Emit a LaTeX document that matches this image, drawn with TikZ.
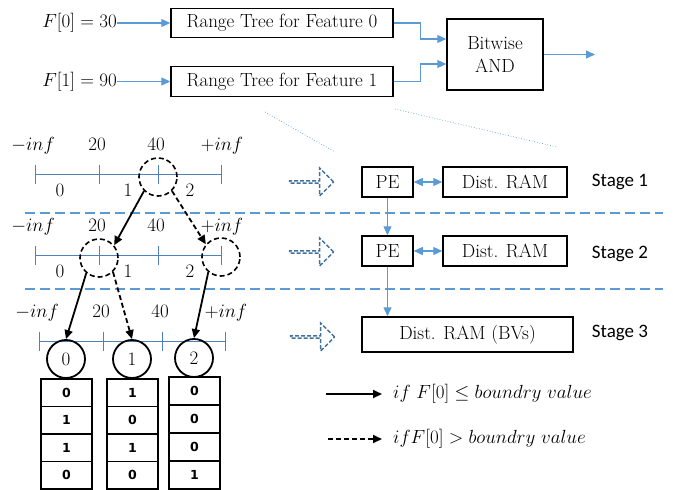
\documentclass[tikz,border=0pt]{standalone}
\usepackage{fix-cm}
\usepackage{fontspec}
\newfontfamily\stagefont{Carlito}
\newfontfamily\bvfont{DejaVu Sans}
\usetikzlibrary{arrows.meta,shapes.arrows}
\definecolor{linkblue}{HTML}{5B9BD5}
\definecolor{lineblue}{HTML}{4F81BD}
\definecolor{darkblue}{HTML}{41719C}
\newcommand\lblsize{\fontsize{19}{23}\selectfont}

\begin{document}
\begin{tikzpicture}[x=1pt,y=-1pt,
      box/.style={draw,line width=1.5pt,inner sep=0pt,font=\lblsize},
      txt/.style={inner sep=0pt,font=\lblsize},
      conn/.style={draw=linkblue,line width=1.3pt,>={Triangle[length=9pt,width=8pt]}},
      tarrow/.style={draw,line width=1.8pt,->,>={Triangle[length=9pt,width=8pt]},dash pattern=on 5pt off 3pt},
      solidarrow/.style={tarrow,solid},
      nline/.style={draw=lineblue,line width=1pt},
      sep/.style={draw=linkblue,line width=1.5pt,dash pattern=on 10pt off 5pt},
      zoomline/.style={draw=linkblue,line width=0.7pt,dotted},
      dcirc/.style={circle,draw,line width=1.6pt,dash pattern=on 5pt off 3pt,minimum size=38pt,inner sep=0pt},
      scirc/.style={circle,draw,line width=1.8pt,minimum size=38pt,inner sep=0pt,font=\lblsize},
      harrow/.style={single arrow,draw=darkblue,line width=1.5pt,dash pattern=on 4pt off 2pt,
        minimum width=28pt,single arrow head extend=8.5pt,minimum height=44pt,inner sep=0pt},
      bvcell/.style={draw,line width=1.1pt,minimum width=51pt,inner sep=0pt,font=\bvfont\bfseries\fontsize{12.5}{15}\selectfont},
      stage/.style={inner sep=0pt,font=\stagefont\fontsize{19}{22}\selectfont},
      ]
  \useasboundingbox (0,0) rectangle (673,490);

  \node [box,minimum width=222pt,minimum height=29pt] (rt0) at (282,23) {Range Tree for Feature 0};
  \node [box,minimum width=222pt,minimum height=30pt] (rt1) at (282,81.5) {Range Tree for Feature 1};
  \node [box,minimum width=96pt,minimum height=71pt,align=center] (and) at (495,54.5) {Bitwise\\AND};
  \node [txt,anchor=east] (f0) at (117,23) {$F[0]=30$};
  \node [txt,anchor=east] (f1) at (117,81.5) {$F[1]=90$};
  \coordinate (out) at (595,54.5);
  \draw [conn,->] (f0.east) -- (rt0.west);
  \draw [conn,->] (f1.east) -- (rt1.west);
  \draw [conn,->] (rt0.east) -- ++(27,0) |- ([yshift=15.5pt]and.west);
  \draw [conn,->] (rt1.east) -- ++(27,0) |- ([yshift=-9.5pt]and.west);
  \draw [conn,->] (and.east) -- (out);

  \coordinate (za) at (265,112);
  \coordinate (zb) at (335,152);
  \coordinate (zc) at (395,109);
  \coordinate (zd) at (557,147);
  \draw [zoomline] (za) -- (zb);
  \draw [zoomline] (zc) -- (zd);

  \foreach \r/\y/\dx in {1/174/0,2/255/0,3/341/4} {
    \draw [nline] (35+\dx,\y) -- (221+\dx,\y);
    \foreach \x in {35,99,158,221}
      \draw [nline] (\x+\dx,\y-9.5) -- (\x+\dx,\y+9.5);
    \foreach \t/\x [count=\i] in {$-inf$/33,20/97,40/156,$+inf$/222}
      \node [txt,anchor=base] (top\r\i) at (\x+\dx,\y-24) {\t};
  }
  \foreach \r/\y in {1/196,2/277}
    \foreach \t/\x in {0/60,1/128,2/190}
      \node [txt,anchor=base] (reg\r\t) at (\x,\y) {\t};

  \draw [sep] (25,213) -- (663,213);
  \draw [sep] (25,289) -- (663,289);

  \node [dcirc] (c1) at (158,177) {};
  \node [dcirc] (c2) at (99,258) {};
  \node [dcirc] (c3) at (221,257) {};
  \node [scirc] (n0) at (66,359) {0};
  \node [scirc] (n1) at (132,359) {1};
  \node [scirc] (n2) at (194,358) {2};
  \draw [solidarrow] (c1.225) -- (c2.40);
  \draw [tarrow] (c1.-45) -- (c3.140);
  \draw [solidarrow] (c2.230) -- (n0.north);
  \draw [tarrow] (c2.-45) -- (n1.north);
  \draw [solidarrow] (c3.230) -- (n2.north);

  \foreach \c/\x/\t/\h/\vals in {0/66.5/379/27.5/{0,1,1,0},1/132.5/379/27.5/{1,0,1,0},2/194.5/377/28/{0,0,0,1}}
    \foreach \v [count=\r] in \vals
      \node [bvcell,minimum height=\h] (bv\c\r) at (\x,{\t+\h*(\r-0.5)}) {\v};

  \node [harrow] (h1) at (311,182) {};
  \node [harrow] (h2) at (311,252) {};
  \node [harrow] (h3) at (312,337) {};

  \node [box,minimum width=51pt,minimum height=30pt] (pe1) at (387.5,182) {PE};
  \node [box,minimum width=124pt,minimum height=30pt] (dr1) at (505,182) {Dist. RAM};
  \node [box,minimum width=51pt,minimum height=30pt] (pe2) at (387.5,251) {PE};
  \node [box,minimum width=124pt,minimum height=30pt] (dr2) at (505,251) {Dist. RAM};
  \node [box,minimum width=211pt,minimum height=35pt] (bv) at (467.5,334.5) {Dist. RAM (BVs)};
  \draw [conn,<->] (pe1.east) -- (dr1.west);
  \draw [conn,<->] (pe2.east) -- (dr2.west);
  \draw [conn,->] (pe1.south) -- (pe2.north);
  \draw [conn,->] (pe2.south) -- (pe2.south |- bv.north);
  \node [stage] (st1) at (620,182) {Stage 1};
  \node [stage] (st2) at (620,254) {Stage 2};
  \node [stage] (st3) at (620,333) {Stage 3};

  \coordinate (l1) at (326,394);
  \coordinate (l2) at (328,439);
  \node [txt,anchor=west,inner xsep=11pt] (lt1) at (382,394) {$if\ F[0]\leq boundry\ value$};
  \node [txt,anchor=west,inner xsep=11pt] (lt2) at (382,439) {$if F[0] > boundry\ value$};
  \draw [solidarrow] (l1) -- (lt1.west);
  \draw [tarrow] (l2) -- (lt2.west);
\end{tikzpicture}
\end{document}
